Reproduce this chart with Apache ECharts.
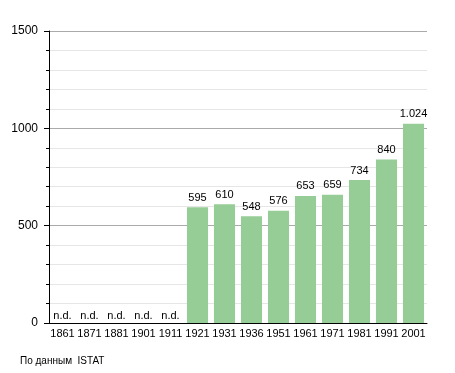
<!DOCTYPE html>
<html><head><meta charset="utf-8">
<script src="https://cdn.jsdelivr.net/npm/echarts@6/dist/echarts.min.js"></script>
<style>html,body{margin:0;padding:0;background:#fff}#c{width:455px;height:373px}</style>
</head><body><div id="c"></div>
<script>
var categories = ['1861','1871','1881','1901','1911','1921','1931','1936','1951','1961','1971','1981','1991','2001'];
var population = [null,null,null,null,null,595,610,548,576,653,659,734,840,1024];
var yTicks = [0,500,1000,1500];
var missingLabel = 'n.d.';
var sourceText = 'По данным  ISTAT';

var chart = echarts.init(document.getElementById('c'), null, {renderer:'canvas'});
var font = 'Liberation Sans, Arial, sans-serif';
function fmt(v){ return v >= 1000 ? Math.floor(v/1000) + '.' + String(v%1000).padStart(3,'0') : String(v); }
chart.setOption({
  animation:false,
  backgroundColor:'#fff',
  grid:{left:49, right:28, top:31, bottom:50, containLabel:false},
  xAxis:{type:'category', data:categories,
    axisLine:{lineStyle:{color:'#000', width:1}},
    axisTick:{show:false},
    axisLabel:{color:'#000', fontFamily:font, fontSize:11, margin:5, interval:0}},
  yAxis:{type:'value', min:yTicks[0], max:yTicks[yTicks.length-1], interval:500,
    axisLine:{show:true, lineStyle:{color:'#000', width:1}},
    axisTick:{show:true, length:5, lineStyle:{color:'#000'}},
    minorTick:{show:true, splitNumber:5, length:3, lineStyle:{color:'#000'}},
    splitLine:{lineStyle:{color:'#aaa', width:1}},
    minorSplitLine:{show:true, lineStyle:{color:'#e6e6e6', width:1}},
    axisLabel:{color:'#000', fontFamily:font, fontSize:12, margin:11,
      formatter:function(v){return String(v);}}},
  series:[
    {type:'bar', data:population, barWidth:'78%',
      itemStyle:{color:'#96cd96'},
      label:{show:true, position:'top', distance:4, color:'#000', fontFamily:font, fontSize:11,
        formatter:function(p){return fmt(p.value);}}},
    {type:'bar', barGap:'-100%', barWidth:'78%',
      data:population.map(function(v){return v==null?0:null;}),
      itemStyle:{color:'transparent'},
      label:{show:true, position:'top', distance:2, color:'#000', fontFamily:font, fontSize:11,
        formatter:function(){return missingLabel;}}}
  ],
  graphic:[{type:'text', left:20, top:356, style:{text:sourceText, fill:'#000', font:'10px Liberation Sans, Arial, sans-serif'}}]
});
</script></body></html>
